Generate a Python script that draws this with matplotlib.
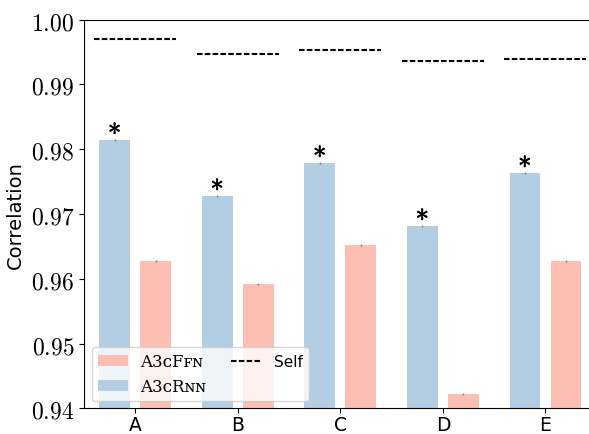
import matplotlib
matplotlib.use('Agg')
import matplotlib.pyplot as plt
import matplotlib.patheffects as pe
import numpy as np

# data
envs = ['A', 'B', 'C', 'D', 'E']
rnn_corr = [0.98143, 0.97278, 0.97788, 0.96815, 0.97633]
ffn_corr = [0.96275, 0.95920, 0.96522, 0.94220, 0.96275]
rnn_err = [0.0001, 0.0001, 0.0001, 0.0001, 0.0001]
ffn_err = [0.0001, 0.0001, 0.0001, 0.0002, 0.0001]
self_corr = [0.99703, 0.99477, 0.99534, 0.99358, 0.99400]
significant = [True, True, True, True, True]

ffn_label = 'A3\u1d04F\ua730\u0274'
rnn_label = 'A3\u1d04R\u0274\u0274'

BLUE = '#b3cde3'
PINK = '#fdbfb4'


def make_figure(outname):
    fig = plt.figure(figsize=(5.89, 4.35), dpi=100)
    ax = fig.add_axes([0.1426, 0.0591, 0.8705, 0.8933])

    x = np.arange(len(envs))
    err_kw = dict(ecolor='grey', lw=1, capsize=0)
    h_ffn = ax.bar(x + 0.2, ffn_corr, 0.3, yerr=ffn_err, color=PINK,
                   error_kw=err_kw, label=ffn_label)
    h_rnn = ax.bar(x - 0.2, rnn_corr, 0.3, yerr=rnn_err, color=BLUE,
                   error_kw=err_kw, label=rnn_label)
    h_self = ax.hlines(self_corr, x - 0.4, x + 0.4, colors='black', lw=1.5,
                       linestyles=(0, (2.65, 1.1)), label='Self')

    for xi, yi, sig in zip(x, rnn_corr, significant):
        if sig:
            ax.text(xi - 0.2, yi - 0.00015, r'$*$', ha='center', va='bottom',
                    fontsize=19,
                    path_effects=[pe.withStroke(linewidth=0.5,
                                                foreground='black')])

    ax.set_xlim(-0.5, 4.5)
    ax.set_ylim(0.94, 1.00)
    ax.set_xticks(x)
    ax.set_xticklabels(envs, fontsize=13.5)
    ax.tick_params(axis='x', pad=1.5)
    yt = np.arange(0.94, 1.0001, 0.01)
    ax.set_yticks(yt)
    ax.set_yticklabels(['$%.2f$' % v for v in yt], fontsize=17)
    ax.set_ylabel('Correlation', fontsize=14)

    leg = ax.legend([h_ffn, h_rnn, h_self], [ffn_label, rnn_label, 'Self'],
                    loc='lower left', ncol=2, fontsize=11,
                    columnspacing=1.6)
    for t in leg.get_texts()[:2]:
        t.set_family(['DejaVu Serif', 'DejaVu Sans'])
        t.set_fontsize(12)

    fig.savefig(outname)


plt.rcParams['mathtext.fontset'] = 'cm'
make_figure('out.png')
